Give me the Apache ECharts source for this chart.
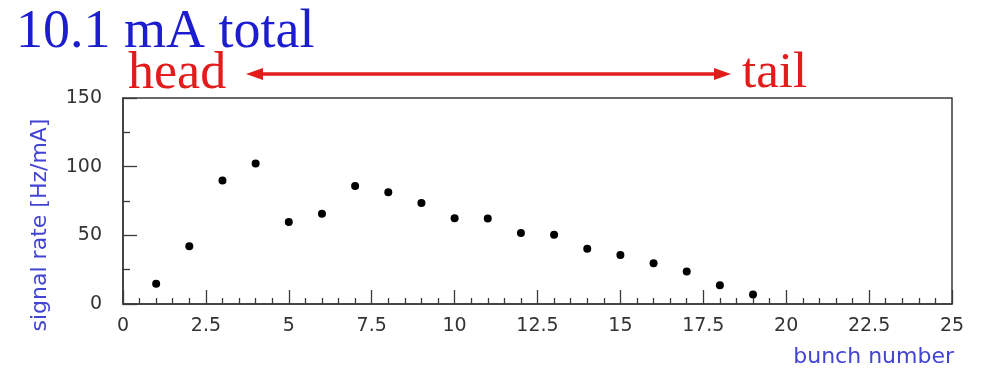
<!DOCTYPE html>
<html>
<head>
<meta charset="utf-8">
<style>
  html, body { margin: 0; padding: 0; background: #fff; }
  #chart { width: 982px; height: 371px; }
</style>
<script src="https://cdn.jsdelivr.net/npm/echarts@6/dist/echarts.min.js"></script>
</head>
<body>
<div id="chart"></div>
<script>
// Signal rate per bunch, normalised to beam current
const bunchNumbers = [1, 2, 3, 4, 5, 6, 7, 8, 9, 10, 11, 12, 13, 14, 15, 16, 17, 18, 19];
const signalRates  = [14.7, 42, 90, 102.3, 59.7, 65.8, 86, 81.4, 73.6, 62.4, 62.2, 51.7, 50.5, 40.3, 35.6, 29.6, 23.7, 13.7, 6.9];

const xTicks = { min: 0, max: 25, interval: 2.5 };
const yTicks = { min: 0, max: 150, interval: 50 };

const titleText = '10.1 mA total';
const headText = 'head';
const tailText = 'tail';
const xName = 'bunch number';
const yName = 'signal rate [Hz/mA]';

const chart = echarts.init(document.getElementById('chart'), null, { renderer: 'canvas' });

const points = bunchNumbers.map((b, i) => [b, signalRates[i]]);
const axisColor = '#3a3a3a';
const tickFont = { fontFamily: 'DejaVu Sans', fontSize: 19, color: '#333' };
const red = '#e21b1b';
const labelBlue = '#4343d4';

chart.setOption({
  animation: false,
  backgroundColor: '#fff',
  grid: {
    left: 123, right: 30, top: 98, bottom: 67,
    show: true, borderColor: axisColor, borderWidth: 1.5, backgroundColor: 'transparent'
  },
  xAxis: {
    type: 'value',
    min: xTicks.min, max: xTicks.max, interval: xTicks.interval,
    axisLine: { show: true, onZero: false, lineStyle: { color: axisColor, width: 1.5 } },
    axisTick: { show: true, inside: true, length: 14, lineStyle: { color: axisColor, width: 1.3 } },
    minorTick: { show: true, splitNumber: 5, length: 6, lineStyle: { color: axisColor, width: 1.3 } },
    splitLine: { show: false },
    axisLabel: Object.assign({ margin: 13 }, tickFont)
  },
  yAxis: {
    type: 'value',
    min: yTicks.min, max: yTicks.max, interval: yTicks.interval,
    axisLine: { show: true, lineStyle: { color: axisColor, width: 1.5 } },
    axisTick: { show: true, inside: true, length: 14, lineStyle: { color: axisColor, width: 1.3 } },
    minorTick: { show: true, splitNumber: 2, length: 7, lineStyle: { color: axisColor, width: 1.3 } },
    splitLine: { show: false },
    axisLabel: Object.assign({ margin: 21 }, tickFont)
  },
  graphic: [
    {
      type: 'text', left: 16, top: 6,
      style: { text: titleText, fontFamily: 'Liberation Serif', fontSize: 54, fill: '#1c1cd0' }
    },
    {
      type: 'text', left: 128, top: 48,
      style: { text: headText, fontFamily: 'Liberation Serif', fontSize: 52, fill: red }
    },
    {
      type: 'text', left: 742, top: 48,
      style: { text: tailText, fontFamily: 'Liberation Serif', fontSize: 51, fill: red }
    },
    // double-headed arrow between the two labels
    {
      type: 'line',
      shape: { x1: 258, y1: 74, x2: 718, y2: 74 },
      style: { stroke: red, lineWidth: 3.5 }
    },
    {
      type: 'polygon',
      shape: { points: [[246, 74], [263, 68], [263, 80]] },
      style: { fill: red }
    },
    {
      type: 'polygon',
      shape: { points: [[731, 74], [714, 68], [714, 80]] },
      style: { fill: red }
    },
    // axis titles
    {
      type: 'text', right: 28, top: 346,
      style: { text: xName, fontFamily: 'DejaVu Sans', fontSize: 22, fill: labelBlue }
    },
    {
      type: 'text', x: 40, y: 225, rotation: Math.PI / 2,
      style: {
        text: yName, fontFamily: 'DejaVu Sans', fontSize: 22, fill: labelBlue,
        align: 'center', verticalAlign: 'middle'
      }
    }
  ],
  series: [{
    type: 'scatter',
    data: points,
    symbol: 'circle',
    symbolSize: 8,
    itemStyle: { color: '#000', opacity: 1 },
    emphasis: { disabled: true }
  }]
});
</script>
</body>
</html>
